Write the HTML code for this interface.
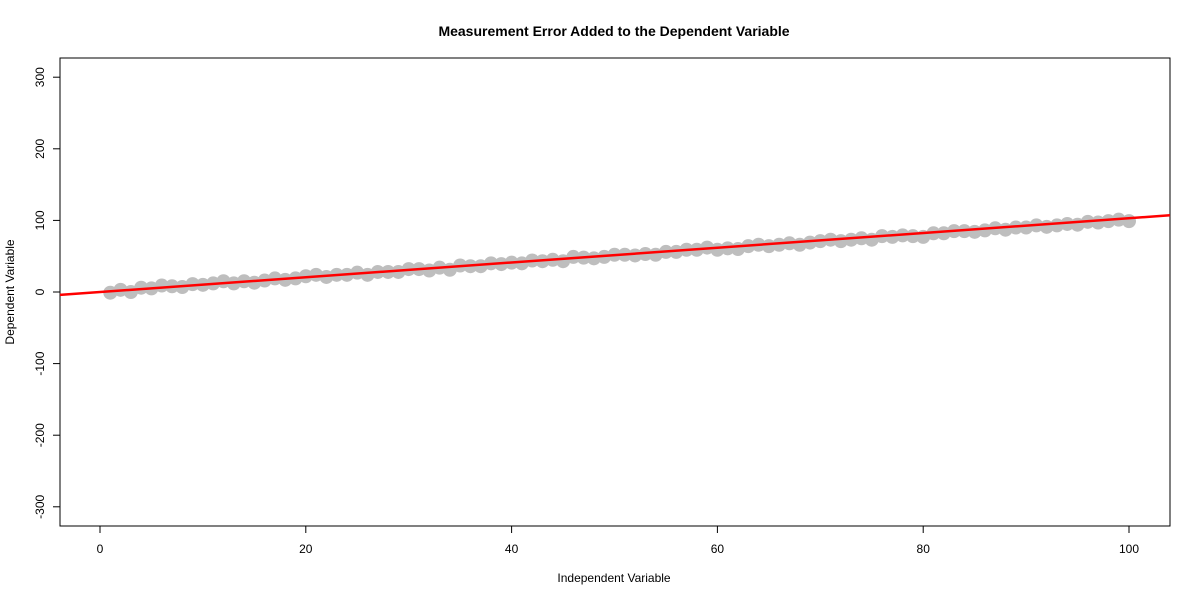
<!DOCTYPE html>
<html><head><meta charset="utf-8"><style>
body{margin:0;background:#fff;}
svg text{font-family:"Liberation Sans",Arial,sans-serif;font-size:12px;fill:#000;}
</style></head><body>
<svg id="chart" width="1200" height="600">
<text x="614" y="36" text-anchor="middle" style="font-weight:bold;font-size:14px">Measurement Error Added to the Dependent Variable</text>
<text x="614" y="582" text-anchor="middle">Independent Variable</text>
<text transform="translate(14,292) rotate(-90)" text-anchor="middle">Dependent Variable</text>
<g id="pts"></g>
<g id="axes"></g>
<rect x="60" y="58" width="1110" height="468" fill="none" stroke="#000"/>
</svg>
<script>
const xTicks=[0,20,40,60,80,100];
const yTicks=[-300,-200,-100,0,100,200,300];
const xVals=[];for(let i=1;i<=100;i++)xVals.push(i);
const yNoise=[-2,1,-3,2,0,3,1,-1,2,0,1,3,-1,1,-2,0,2,-1,0,2,3,-1,1,0,2,-2,1,0,-1,2,1,-2,1,-3,2,0,-1,2,0,1,-1,2,0,1,-2,3,1,-1,0,2,1,-1,0,-2,1,0,2,1,3,-1,0,-2,1,2,-1,0,1,-2,0,1,2,-1,0,1,-2,2,0,1,-1,-3,1,0,2,1,-1,0,2,-1,1,0,2,-1,0,1,-1,2,0,1,2,-1];
const yVals=xVals.map((x,i)=>x+yNoise[i]);
const intercept=0, slope=1.03;
const X=v=>100+v*10.29, Y=v=>292-v*0.716;
const NS="http://www.w3.org/2000/svg";
const svg=document.getElementById('chart'),pts=document.getElementById('pts'),ax=document.getElementById('axes');
function mk(t,a,p){const e=document.createElementNS(NS,t);for(const k in a)e.setAttribute(k,a[k]);p.appendChild(e);return e;}
xVals.forEach((x,i)=>{const c=mk('circle',{cx:X(x),cy:Y(yVals[i]),r:7,fill:'#bebebe'},pts);

});
const ln=mk('line',{x1:60,y1:Y(intercept+slope*(-3.89)),x2:1170,y2:Y(intercept+slope*104),stroke:'#f00','stroke-width':2.5},svg);


xTicks.forEach(t=>{mk('line',{x1:X(t),x2:X(t),y1:526,y2:533,stroke:'#000'},ax);
const tx=mk('text',{x:X(t),y:553,'text-anchor':'middle'},ax);tx.textContent=t;

});
yTicks.forEach(t=>{mk('line',{x1:53,x2:60,y1:Y(t),y2:Y(t),stroke:'#000'},ax);
const tx=mk('text',{transform:`translate(44,${Y(t)}) rotate(-90)`,'text-anchor':'middle'},ax);tx.textContent=t;

});
</script>
</body></html>
